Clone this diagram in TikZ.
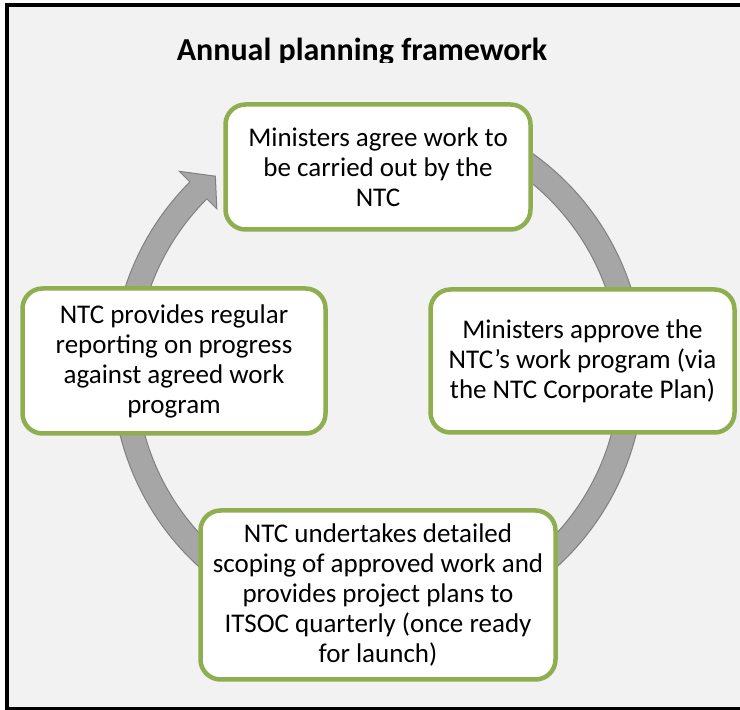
\documentclass[tikz,border=0pt]{standalone}
\usepackage{fontspec}
\setmainfont{Carlito}
\usetikzlibrary{calc}
\definecolor{bggray}{HTML}{F2F2F2}
\definecolor{boxgreen}{RGB}{143,174,80}
\definecolor{ringfill}{HTML}{A6A6A6}
\definecolor{ringline}{HTML}{808080}
\begin{document}
\begin{tikzpicture}[x=1pt,y=1pt,
  stagebox/.style={draw=boxgreen, line width=4.5pt, fill=white, rounded corners=20pt,
    align=center, font=\fontsize{27}{30}\selectfont, inner sep=0pt},
  framerule/.style={draw=black}
]
\useasboundingbox (0,0) rectangle (740,710);
\fill[white] (0,0) rectangle (740,710);
\fill[bggray] (7,1) rectangle (740,705);
\draw[framerule, line width=4pt] (7,0) -- (7,707);
\draw[framerule, line width=4pt] (5,705) -- (740,705);
\draw[framerule, line width=2.5pt] (5,1.5) -- (740,1.5);

% title (clipped at the bottom as in the reference)
\begin{scope}
\clip (0,647) rectangle (740,710);
\node[font=\bfseries\fontsize{32}{36}\selectfont, anchor=base] (title) at (362,649) {Annual planning framework};
\end{scope}

% circular arrow
\coordinate (c) at (378,340);
\filldraw[fill=ringfill, draw=ringline, line width=1pt]
  ($(c)+(110:266)$) arc[start angle=110, end angle=-225, radius=266]
  -- ($(c)+(135:281)$) -- ($(c)+(130:253)$) -- ($(c)+(135:228)$)
  -- ($(c)+(135:242)$) arc[start angle=135, end angle=470, radius=242] -- cycle;

\node[stagebox, minimum width=305pt, minimum height=125pt] (agree) at (378,543)
  {Ministers agree work to\\be carried out by the\\NTC};
\node[stagebox, minimum width=304pt, minimum height=143pt] (approve) at (582.5,349)
  {Ministers approve the\\NTC’s work program (via\\the NTC Corporate Plan)};
\node[stagebox, minimum width=303pt, minimum height=145pt] (report) at (174,349)
  {NTC provides regular\\reporting on progress\\against agreed work\\program};
\node[stagebox, minimum width=355pt, minimum height=169pt] (scoping) at (378,115)
  {NTC undertakes detailed\\scoping of approved work and\\provides project plans to\\ITSOC quarterly (once ready\\for launch)};
\end{tikzpicture}
\end{document}
